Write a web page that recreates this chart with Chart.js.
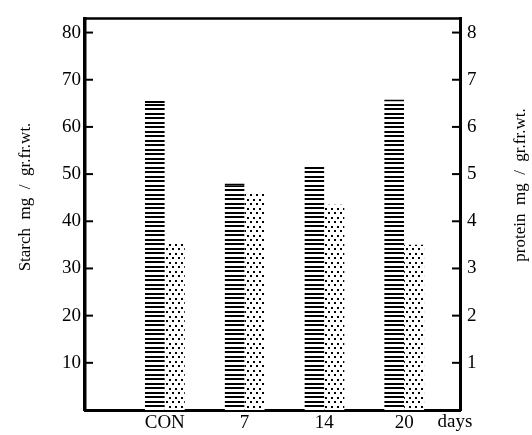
<!DOCTYPE html>
<html>
<head>
<meta charset="utf-8">
<script src="https://cdn.jsdelivr.net/npm/chart.js@4/dist/chart.umd.min.js"></script>
<style>
  html, body { margin: 0; padding: 0; background: #fff; }
  canvas { display: block; }
</style>
</head>
<body>
<canvas id="c" width="532" height="435"></canvas>
<script>
// categories (days) and their positions on the x axis
const dias = ['CON', '7', '14', '20'];
const posX = [1, 2, 3, 4];
// starch mg / gr.fr.wt. (left axis)
const almidon = [65.5, 48, 51.5, 65.8];
// protein mg / gr.fr.wt. (right axis)
const proteina = [3.53, 4.59, 4.35, 3.5];
// tick values
const ticksIzq = [10, 20, 30, 40, 50, 60, 70, 80];
const ticksDer = [1, 2, 3, 4, 5, 6, 7, 8];

const SERIF = '"Liberation Serif", "DejaVu Serif", serif';

function patronRayas() {
    const p = document.createElement('canvas');
    p.width = 8; p.height = 9;
    const g = p.getContext('2d');
    g.fillStyle = '#fff'; g.fillRect(0, 0, 8, 9);
    g.fillStyle = '#000';
    g.fillRect(0, 0, 8, 2);
    g.fillRect(0, 5, 8, 2);
    return g.createPattern(p, 'repeat');
}

function patronPuntos() {
    const p = document.createElement('canvas');
    p.width = 6; p.height = 9;
    const g = p.getContext('2d');
    g.fillStyle = '#fff'; g.fillRect(0, 0, 6, 9);
    g.fillStyle = '#000';
    g.fillRect(1, 1, 2, 2);
    g.fillRect(4, 5, 2, 2);
    return g.createPattern(p, 'repeat');
}

const extras = {
    id: 'extras',
    afterDraw(chart) {
        const ctx = chart.ctx, ca = chart.chartArea;
        const y = chart.scales.y, y2 = chart.scales.y2;
        ctx.save();
        ctx.strokeStyle = '#000';
        // top line of the frame
        ctx.lineWidth = 2.5;
        ctx.beginPath(); ctx.moveTo(ca.left - 1, ca.top); ctx.lineTo(ca.right + 1, ca.top); ctx.stroke();
        // inward ticks
        ctx.lineWidth = 2;
        ticksIzq.forEach(v => {
            const py = y.getPixelForValue(v);
            ctx.beginPath(); ctx.moveTo(ca.left, py); ctx.lineTo(ca.left + 8, py); ctx.stroke();
        });
        ticksDer.forEach(v => {
            const py = y2.getPixelForValue(v);
            ctx.beginPath(); ctx.moveTo(ca.right - 8, py); ctx.lineTo(ca.right, py); ctx.stroke();
        });
        // axis titles, both reading bottom to top
        ctx.fillStyle = '#000';
        ctx.font = '17px ' + SERIF;
        ctx.textAlign = 'center'; ctx.textBaseline = 'middle';
        ctx.save(); ctx.translate(26, 197); ctx.rotate(-Math.PI / 2);
        ctx.fillText('Starch  mg  /  gr.fr.wt.', 0, 0); ctx.restore();
        ctx.save(); ctx.translate(521, 185); ctx.rotate(-Math.PI / 2);
        ctx.fillText('protein  mg  /  gr.fr.wt.', 0, 0); ctx.restore();
        // unit under the x axis
        ctx.font = '19px ' + SERIF;
        ctx.fillText('days', 455, 422);
        ctx.restore();
    }
};

new Chart(document.getElementById('c'), {
    type: 'bar',
    data: {
        datasets: [
            {
                label: 'Starch',
                data: posX.map((x, i) => ({ x, y: almidon[i] })),
                yAxisID: 'y',
                backgroundColor: patronRayas(),
                borderColor: '#000',
                borderWidth: { top: 2, left: 0, right: 0, bottom: 0 },
                borderSkipped: 'bottom'
            },
            {
                label: 'protein',
                data: posX.map((x, i) => ({ x, y: proteina[i] })),
                yAxisID: 'y2',
                backgroundColor: patronPuntos(),
                borderWidth: 0
            }
        ]
    },
    options: {
        responsive: false,
        animation: false,
        layout: { padding: { top: 11, left: 0, right: 0, bottom: 0 } },
        categoryPercentage: 0.5,
        barPercentage: 1,
        plugins: { legend: { display: false }, tooltip: { enabled: false } },
        scales: {
            x: {
                type: 'linear',
                offset: false,
                min: 0, max: 4.7,
                grid: { display: false, drawTicks: false },
                border: { display: true, color: '#000', width: 3 },
                afterBuildTicks: s => { s.ticks = posX.map(v => ({ value: v })); },
                afterFit: s => { s.height = 25; },
                ticks: {
                    color: '#000', padding: 2, maxRotation: 0, autoSkip: false,
                    font: { family: SERIF, size: 19 },
                    callback: v => dias[posX.indexOf(v)] ?? ''
                }
            },
            y: {
                position: 'left',
                min: 0, max: 83,
                grid: { display: false, drawTicks: false },
                border: { display: true, color: '#000', width: 3.5 },
                afterFit: s => { s.width = 85; },
                ticks: {
                    stepSize: 10, includeBounds: false, color: '#000', padding: 4,
                    font: { family: SERIF, size: 19 },
                    callback: v => v === 0 ? '' : v
                }
            },
            y2: {
                position: 'right',
                min: 0, max: 8.3,
                grid: { display: false, drawTicks: false },
                border: { display: true, color: '#000', width: 3 },
                afterFit: s => { s.width = 72; },
                ticks: {
                    stepSize: 1, includeBounds: false, color: '#000', padding: 7,
                    font: { family: SERIF, size: 19 },
                    callback: v => v === 0 ? '' : v
                }
            }
        }
    },
    plugins: [extras]
});
</script>
</body>
</html>
